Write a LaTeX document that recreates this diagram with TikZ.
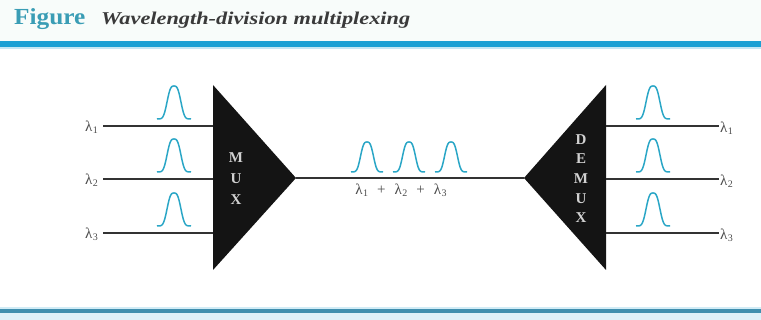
\documentclass[tikz,border=0pt]{standalone}
\usepackage{fontspec}
\setmainfont{Liberation Serif}
\usetikzlibrary{calc}
\definecolor{barblue}{HTML}{1BA0D4}
\definecolor{figteal}{HTML}{3A9DB5}
\definecolor{pulsecol}{HTML}{2AA6C6}
\definecolor{capgray}{HTML}{3A3A3A}
\definecolor{headbg}{HTML}{F8FCFA}
\definecolor{botline}{HTML}{3F8FAF}
\newcommand{\lamb}[1]{λ\kern0.5pt\raisebox{-0.25ex}{\fontsize{10}{10}\selectfont #1}}
\begin{document}
\begin{tikzpicture}[x=1pt,y=-1pt,
  sig/.style={line width=1.1pt,black!80},
  lam/.style={inner sep=1pt,font=\fontsize{15}{16}\selectfont,text=black!70},
  pulse/.style={line width=1.5pt,pulsecol,line join=round},
  boxtxt/.style={text=white!82!black,font=\bfseries\fontsize{15}{15}\selectfont,inner sep=0pt}
]
\useasboundingbox (0,0) rectangle (761,320);
% header
\fill[headbg] (0,0) rectangle (761,41);
\fill[barblue] (0,41.5) rectangle (761,47);
\fill[barblue!25] (0,47) rectangle (761,49);
\node[anchor=base west,inner sep=0pt,text=figteal,font=\bfseries\fontsize{23}{23}\selectfont,xscale=1.1] (fig) at (14,25) {Figure};
\node[anchor=base west,inner sep=0pt,text=capgray,font=\itshape\bfseries\fontsize{18}{18}\selectfont,xscale=1.24] (cap) at (101,25) {Wavelength-division multiplexing};
% bottom line
\fill[barblue!20] (0,307) rectangle (761,309);
\fill[botline] (0,309) rectangle (761,313);
\fill[barblue!15] (0,313) rectangle (761,320);
% MUX
\coordinate (muxT) at (213,85);
\coordinate (muxB) at (213,270);
\coordinate (muxA) at (296,178);
\fill[black!92] (muxT) -- (muxA) -- (muxB) -- cycle;
\foreach \l/\yy in {M/158,U/179,X/200}{
  \node[boxtxt] (mux\l) at (236,\yy) {\l};
}
% DEMUX
\coordinate (demT) at (606,85);
\coordinate (demB) at (606,270);
\coordinate (demA) at (524,178);
\fill[black!92] (demT) -- (demA) -- (demB) -- cycle;
\foreach \l/\yy/\k in {D/140/1,E/159/2,M/179/3,U/199/4,X/218/5}{
  \node[boxtxt] (dem\k) at (581,\yy) {\l};
}
% inputs / outputs
\foreach \i/\y in {1/126,2/179,3/233}{
  \node[lam,anchor=east] (in\i) at (99,\y+1) {\lamb{\i}};
  \coordinate (mi\i) at (213,\y);
  \draw[sig] ([xshift=4pt]in\i.east |- mi\i) -- (mi\i);
  \node[lam,anchor=west] (out\i) at (719,\y+2) {\lamb{\i}};
  \coordinate (do\i) at (606,\y);
  \draw[sig] (do\i) -- (out\i.west |- do\i);
  \draw[pulse] plot[domain=-17:17,samples=80,smooth] ({174+\x},{\y-7-33*exp(-(abs(\x)/8)^3)});
  \draw[pulse] plot[domain=-17:17,samples=80,smooth] ({653+\x},{\y-7-33*exp(-(abs(\x)/8)^3)});
}
% trunk
\draw[sig] (muxA) -- (demA);
\foreach \cx in {367,409,451}{
  \draw[pulse] plot[domain=-16:16,samples=80,smooth] ({\cx+\x},{172-30*exp(-(abs(\x)/7.5)^3)});
}
\node[lam,anchor=north] (sum) at (401,183) {\lamb{1}\hspace{9pt}+\hspace{9pt}\lamb{2}\hspace{9pt}+\hspace{9pt}\lamb{3}};
\end{tikzpicture}
\end{document}
